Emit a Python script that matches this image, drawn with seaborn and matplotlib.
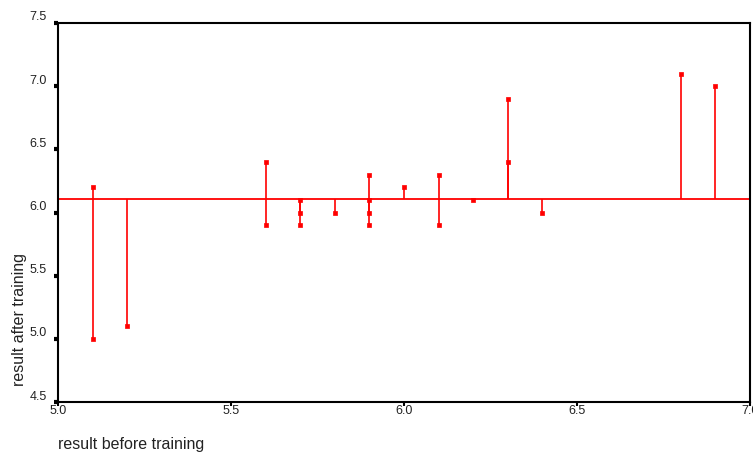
import matplotlib
matplotlib.use("Agg")
import matplotlib.pyplot as plt
import matplotlib.transforms as mtransforms
import seaborn as sns
import pandas as pd

# Data
before = [5.1, 5.1, 5.2, 5.6, 5.6, 5.7, 5.7, 5.7, 5.8, 5.9, 5.9, 5.9, 5.9,
          6.0, 6.1, 6.1, 6.2, 6.3, 6.3, 6.4, 6.8, 6.9]
after = [6.2, 5.0, 5.1, 6.4, 5.9, 6.1, 6.0, 5.9, 6.0, 6.3, 6.1, 6.0, 5.9,
         6.2, 6.3, 5.9, 6.1, 6.9, 6.4, 6.0, 7.1, 7.0]
mean_after = 6.11
x_ticks = [5.0, 5.5, 6.0, 6.5, 7.0]
y_ticks = [4.5, 5.0, 5.5, 6.0, 6.5, 7.0, 7.5]

df = pd.DataFrame({"before": before, "after": after})

sns.set_style("white")
plt.rcParams['font.family'] = ['Liberation Sans', 'DejaVu Sans']

fig = plt.figure(figsize=(7.53, 4.55), dpi=100)
ax = fig.add_axes([58/753, 1 - 402/455, (750 - 58)/753, (402 - 23)/455])

red = "#ff0000"
ax.axhline(mean_after, color=red, lw=1.3, zorder=2)
ax.vlines(df["before"], mean_after, df["after"], color=red, lw=1.2, zorder=2)
sns.scatterplot(data=df, x="before", y="after", ax=ax, marker="s", s=12,
                color=red, edgecolor=red, linewidth=0.5, zorder=3, legend=False)

ax.set_xlim(5.0, 7.0)
ax.set_ylim(4.5, 7.5)
ax.set_xticks(x_ticks)
ax.set_yticks(y_ticks)
ax.set_xticklabels([f"{v:.1f}" for v in x_ticks])
ax.set_yticklabels([f"{v:.1f}" for v in y_ticks])

for s in ax.spines.values():
    s.set_visible(True)
    s.set_color("black")
    s.set_linewidth(1.5)

ax.tick_params(axis="y", direction="out", length=3, width=3, color="black",
               labelsize=9, pad=5, left=True, labelcolor="#222222")
ax.tick_params(axis="x", direction="out", length=3, width=1.5, color="black",
               labelsize=9, pad=-1, bottom=True, labelcolor="#222222")

offset = mtransforms.ScaledTranslation(0, 7/100, fig.dpi_scale_trans)
for lab in ax.get_yticklabels():
    lab.set_transform(lab.get_transform() + offset)

ax.set_xlabel("")
ax.set_ylabel("")
fig.text(58/753, 1 - 445/455, "result before training", fontsize=11.5,
         ha="left", va="center", color="#222222")
fig.text(20/753, 1 - 320/455, "result after training", fontsize=11.5,
         rotation=90, ha="center", va="center", color="#222222")

fig.savefig("out.png", dpi=100)
